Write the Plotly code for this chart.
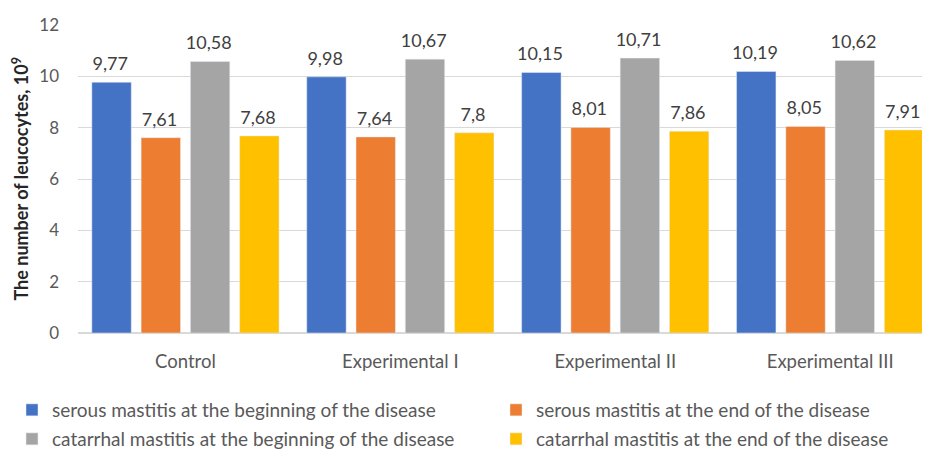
import plotly.graph_objects as go

categories = ["Control", "Experimental I", "Experimental II", "Experimental III"]
serous_begin = [9.77, 9.98, 10.15, 10.19]
serous_end = [7.61, 7.64, 8.01, 8.05]
catarrhal_begin = [10.58, 10.67, 10.71, 10.62]
catarrhal_end = [7.68, 7.80, 7.86, 7.91]
y_title = "<b>The number of leucocytes, 10<sup>9</sup></b>"

series = [
    ("serous mastitis at the beginning of the disease", serous_begin, "#4472C4"),
    ("serous mastitis at the end of the disease", serous_end, "#ED7D31"),
    ("catarrhal mastitis at the beginning of the disease", catarrhal_begin, "#A5A5A5"),
    ("catarrhal mastitis at the end of the disease", catarrhal_end, "#FFC000"),
]

def fmt(v):
    s = ("%.2f" % v).rstrip("0").rstrip(".")
    return s.replace(".", ",") + "<span style='font-size:42px'>\u200a</span>"

FONT = "Lato, Open Sans, sans-serif"
W, H = 922, 443  # page body has an 8px margin
ML, MR, MT, MB = 69.5, 1, 17, 117.5
legend_names = ["legend", "legend2", "legend3", "legend4"]
# legend positions in container pixels (left, middle-y)
legend_pos = [(4, 402), (488, 402), (4, 431), (488, 431)]

fig = go.Figure()
for (name, vals, color), lg in zip(series, legend_names):
    fig.add_trace(go.Bar(
        x=categories, y=vals, name=name, marker_color=color,
        text=[fmt(v) for v in vals], textposition="outside",
        constraintext="none",
        textfont=dict(size=18, color="#404040", family=FONT),
        cliponaxis=False, legend=lg,
    ))

layout_legends = {}
for lg, (lx, ly) in zip(legend_names, legend_pos):
    layout_legends[lg] = dict(
        xref="container", yref="container",
        x=lx / W, y=1 - ly / H, xanchor="left", yanchor="middle",
        font=dict(size=19, color="#595959", family=FONT),
        itemwidth=30, bgcolor="rgba(0,0,0,0)",
    )

plot_w = W - ML - MR
fig.add_annotation(
    text=y_title, textangle=-90, showarrow=False,
    xref="paper", yref="paper", x=(12 - ML) / plot_w, y=0.5,
    xanchor="center", yanchor="middle",
    font=dict(size=18, color="#262626", family=FONT),
)

fig.update_layout(
    width=W, height=H,
    margin=dict(l=ML, r=MR, t=MT, b=MB, autoexpand=False),
    paper_bgcolor="white", plot_bgcolor="white",
    barmode="group", bargap=0.083, bargroupgap=0.2,
    font=dict(family=FONT, size=17, color="#595959"),
    yaxis=dict(
        range=[0, 12], dtick=2, showgrid=True, gridcolor="#D9D9D9", gridwidth=1,
        zeroline=True, zerolinecolor="#D9D9D9", ticks="", ticklabelstandoff=18,
        tickfont=dict(size=17, color="#595959"),
    ),
    xaxis=dict(range=[-0.5, 3.46], tickfont=dict(size=18.5, color="#595959"), ticks="",
               showline=False, ticklabelstandoff=15),
    showlegend=True,
    **layout_legends,
)

fig.write_html("out.html")
